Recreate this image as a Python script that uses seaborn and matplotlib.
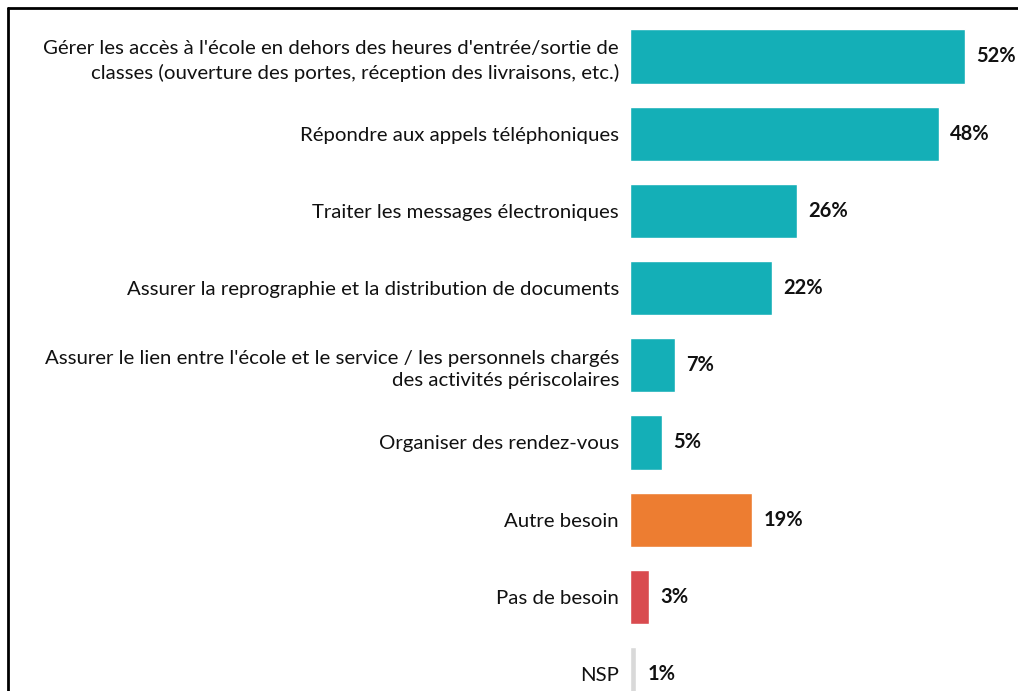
import seaborn as sns
import matplotlib.pyplot as plt
from matplotlib.lines import Line2D

labels = [
    "Gérer les accès à l'école en dehors des heures d'entrée/sortie de\nclasses (ouverture des portes, réception des livraisons, etc.)",
    "Répondre aux appels téléphoniques",
    "Traiter les messages électroniques",
    "Assurer la reprographie et la distribution de documents",
    "Assurer le lien entre l'école et le service / les personnels chargés\ndes activités périscolaires",
    "Organiser des rendez-vous",
    "Autre besoin",
    "Pas de besoin",
    "NSP",
]
values = [52, 48, 26, 22, 7, 5, 19, 3, 1]
colors = ["#14AFB7"] * 6 + ["#ED7D31", "#D94B4F", "#D9D9D9"]

sns.set_style("white")
plt.rcParams['font.family'] = ['Lato', 'DejaVu Sans']

W, H = 1018, 691
fig = plt.figure(figsize=(W / 100, H / 100), dpi=100)
ax = fig.add_axes([630 / W, 0, 388 / W, 1])

sns.barplot(x=values, y=labels, hue=labels, palette=colors, legend=False,
            orient="h", width=0.70, ax=ax, saturation=1)

# scale: ~6.44 px per percent, row spacing ~77.2 px
ax.set_xlim(0, 388 / 6.44)
ax.set_ylim((H - 56.5) / 77.2, -56.5 / 77.2)

for c in ax.containers:
    ax.bar_label(c, labels=[f"{v}%" for v in c.datavalues.astype(int)],
                 padding=8, fontsize=14.5, fontweight="bold", color="#111111")

ax.set_xlabel("")
ax.set_ylabel("")
ax.set_xticks([])
ax.tick_params(axis="y", length=0, pad=8, labelsize=14.7, labelcolor="#111111")
for t in ax.get_yticklabels():
    t.set_linespacing(1.4)
sns.despine(ax=ax, left=True, bottom=True)

# outer frame (top and left edges only)
fig.add_artist(Line2D([8 / W, 8 / W], [0, 1 - 8 / H], transform=fig.transFigure,
                      color="black", lw=2))
fig.add_artist(Line2D([8 / W, 1], [1 - 8 / H, 1 - 8 / H], transform=fig.transFigure,
                      color="black", lw=2))

fig.savefig("out.png", dpi=100)
